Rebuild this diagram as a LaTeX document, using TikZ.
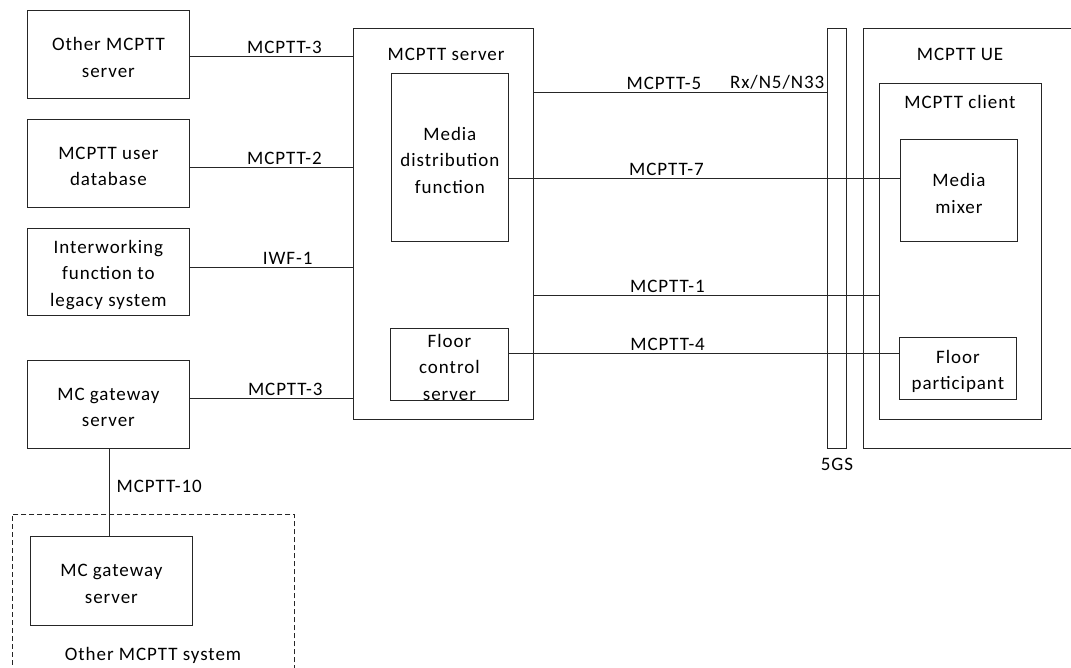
\documentclass[tikz,border=0pt]{standalone}
\usepackage{fontspec}
\setmainfont{Carlito}[LetterSpace=5]
\usetikzlibrary{calc}
\begin{document}
\begin{tikzpicture}[x=1pt,y=-1pt,
  font=\fontsize{19}{26.5}\selectfont,
  box/.style={draw=black!85, line width=0.8pt, inner sep=0pt, anchor=north west},
  txt/.style={label={[align=center, inner sep=0pt, yshift=-3pt]center:#1}},
  conn/.style={draw=black!85, line width=0.8pt},
  lbl/.style={above=1pt, inner sep=1pt},
  ttl/.style={inner sep=0pt}]
\clip (0,0) rectangle (1071,668);
\fill[white] (0,0) rectangle (1071,668);
% left boxes
\node[box, minimum width=162, minimum height=88, txt={Other MCPTT\\server}] (oms) at (27,10) {};
\node[box, minimum width=162, minimum height=88, txt={MCPTT user\\database}] (udb) at (27,119) {};
\node[box, minimum width=162, minimum height=87, txt={Interworking\\function to\\legacy system}] (iwf) at (27,228) {};
\node[box, minimum width=162, minimum height=88, txt={MC gateway\\server}] (gw) at (27,360) {};
% other system
\node[box, dash pattern=on 5pt off 3pt, minimum width=282, minimum height=170] (other) at (12,514) {};
\node[box, minimum width=162, minimum height=89, txt={MC gateway\\server}] (gw2) at (30,536) {};
\node[ttl] (otherlbl) at (153,655) {Other MCPTT system};
% MCPTT server
\node[box, minimum width=180, minimum height=391] (srv) at (353,28) {};
\node[ttl] (srvlbl) at (446,54) {MCPTT server};
\node[box, minimum width=117, minimum height=168, txt={Media\\distribution\\function}] (mdf) at (391,73) {};
\node[box, minimum width=118, minimum height=72, txt={Floor\\control\\server}] (fcs) at (390,328) {};
% 5GS
\node[box, minimum width=19, minimum height=420] (fgs) at (827,28) {};
\node[ttl] (fgslbl) at (837,464) {5GS};
% UE
\node[box, minimum width=230, minimum height=420] (ue) at (863,28) {};
\node[ttl] (uelbl) at (960,54) {MCPTT UE};
\node[box, minimum width=162, minimum height=336] (cli) at (879,83) {};
\node[ttl] (clilbl) at (960,102) {MCPTT client};
\node[box, minimum width=117, minimum height=102, txt={Media\\mixer}] (mm) at (900,139) {};
\node[box, minimum width=117, minimum height=62, txt={Floor\\participant}] (fp) at (899,337) {};
% left connectors
\draw[conn] (oms.east |- 0,56) -- node[lbl, pos=0.58] (l1) {MCPTT-3} (srv.west |- 0,56);
\draw[conn] (udb.east |- 0,167) -- node[lbl, pos=0.58] (l2) {MCPTT-2} (srv.west |- 0,167);
\draw[conn] (iwf.east |- 0,267) -- node[lbl, pos=0.6] (l3) {IWF-1} (srv.west |- 0,267);
\draw[conn] (gw.east |- 0,398) -- node[lbl, pos=0.585] (l4) {MCPTT-3} (srv.west |- 0,398);
\draw[conn] (gw.south -| 109,0) -- node[right=4pt, pos=0.43] (l10) {MCPTT-10} (gw2.north -| 109,0);
% right connectors
\draw[conn] (srv.east |- 0,92) -- node[lbl, pos=0.444] (l5) {MCPTT-5} node[lbl, pos=0.83] (lrx) {Rx/N5/N33} (fgs.west |- 0,92);
\draw[conn] (mdf.east |- 0,178) -- node[lbl, pos=0.403] (l7) {MCPTT-7} (mm.west |- 0,178);
\draw[conn] (srv.east |- 0,295) -- node[lbl, pos=0.387] (lm1) {MCPTT-1} (cli.west |- 0,295);
\draw[conn] (fcs.east |- 0,353) -- node[lbl, pos=0.407] (lm4) {MCPTT-4} (fp.west |- 0,353);
\end{tikzpicture}
\end{document}
